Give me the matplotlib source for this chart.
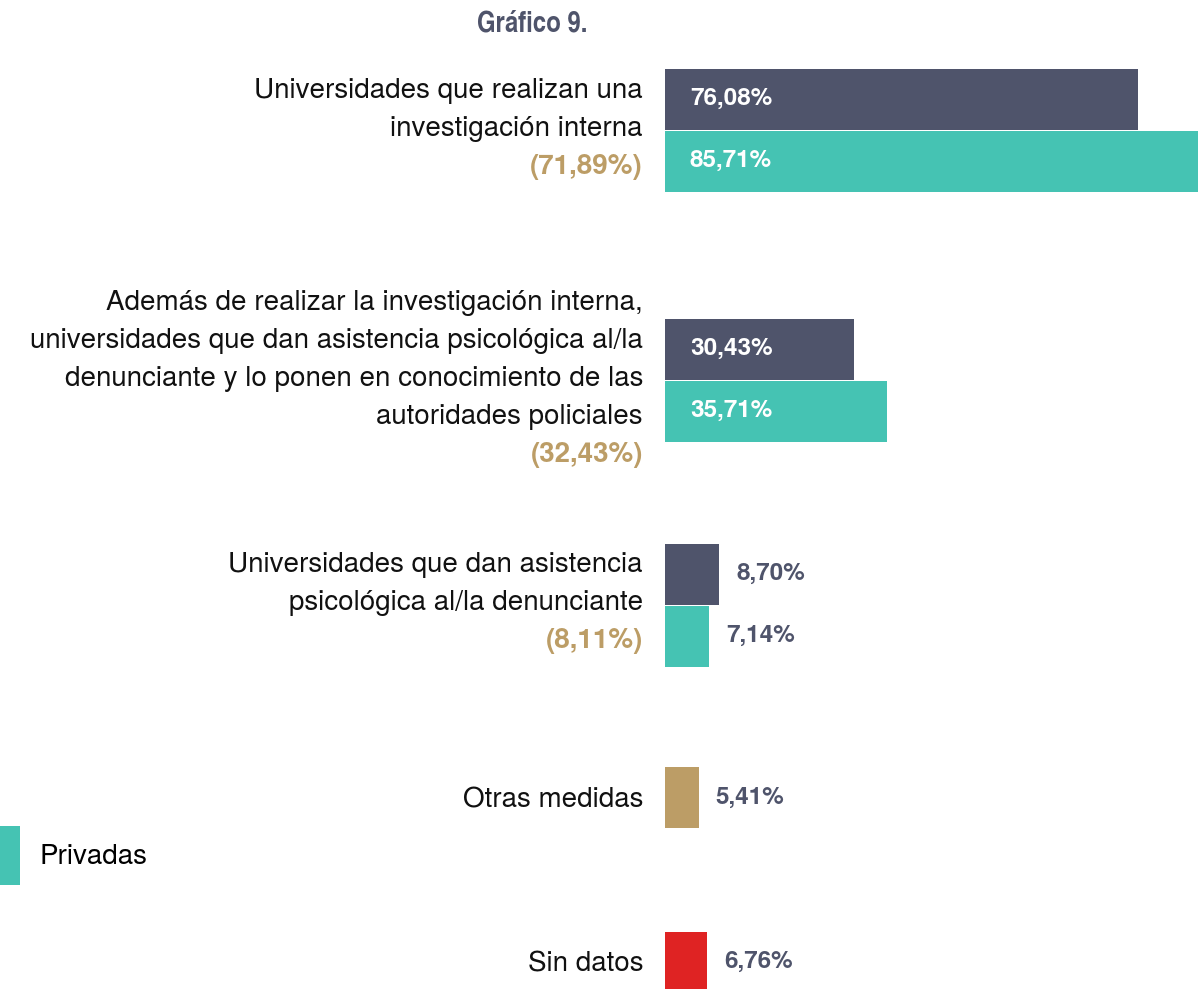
import matplotlib
matplotlib.use("Agg")
import matplotlib.pyplot as plt

# ---- data ----
categories = [
    ["Universidades que realizan una", "investigación interna"],
    ["Además de realizar la investigación interna,",
     "universidades que dan asistencia psicológica al/la",
     "denunciante y lo ponen en conocimiento de las",
     "autoridades policiales"],
    ["Universidades que dan asistencia", "psicológica al/la denunciante"],
]
publicas = [76.08, 30.43, 8.70]
privadas = [85.71, 35.71, 7.14]
totales = [71.89, 32.43, 8.11]
otras_labels = ["Otras medidas", "Sin datos"]
otras_values = [5.41, 6.76]

# ---- style ----
DARK = "#4f546b"
TEAL = "#45c3b3"
GOLD = "#bc9d66"
RED = "#df2323"
other_colors = [GOLD, RED]
FONT = ["TeX Gyre Heros", "Liberation Sans", "DejaVu Sans"]
TITLE_FONT = ["TeX Gyre Heros Cn", "Liberation Sans Narrow", "DejaVu Sans"]

W, H = 1202, 989
fig = plt.figure(figsize=(W / 100, H / 100), dpi=100)
x0 = 665
px_per_pct = 6.22
ax = fig.add_axes([x0 / W, 0, (W - x0) / W, 1])
ax.set_xlim(0, (W - x0) / px_per_pct)
ax.set_ylim(H, 0)
ax.axis("off")

bar_h = 61
group_centers = [130, 380, 605]
other_centers = [797.5, 962]
line_step = 38
label_fs = 20
value_fs = 17.5


def value_label(v, yc):
    txt = f"{v:.2f}".replace(".", ",") + "%"
    if v > 20:
        ax.annotate(txt, xy=(0, yc), xytext=(25, 0), textcoords="offset pixels",
                    ha="left", va="center", color="white", fontsize=value_fs,
                    fontweight="bold", family=FONT)
    else:
        ax.annotate(txt, xy=(v, yc), xytext=(17, 0), textcoords="offset pixels",
                    ha="left", va="center", color=DARK, fontsize=value_fs,
                    fontweight="bold", family=FONT)


def left_lines(lines, colors, weights, yc):
    n = len(lines)
    for k, (ln, c, w) in enumerate(zip(lines, colors, weights)):
        yb = yc + 9.5 + (k - (n - 1) / 2) * line_step
        ax.annotate(ln, xy=(0, yb), xytext=(-22, 0), textcoords="offset pixels",
                    ha="right", va="baseline", color=c, fontsize=label_fs,
                    fontweight=w, family=FONT, annotation_clip=False)


for i, gc in enumerate(group_centers):
    yp = gc - bar_h / 2 - 0.5
    yq = gc + bar_h / 2 + 0.5
    ax.barh(yp, publicas[i], height=bar_h, left=0, color=DARK, label="Públicas" if i == 0 else None)
    b = ax.barh(yq, privadas[i], height=bar_h, left=0, color=TEAL, label="Privadas" if i == 0 else None)
    if i == 0:
        priv_handle = b
    value_label(publicas[i], yp)
    value_label(privadas[i], yq)
    tot = "(" + f"{totales[i]:.2f}".replace(".", ",") + "%)"
    lines = categories[i] + [tot]
    colors = ["#111111"] * len(categories[i]) + [GOLD]
    weights = ["normal"] * len(categories[i]) + ["bold"]
    left_lines(lines, colors, weights, gc - 4)

for lab, v, c, yc in zip(otras_labels, otras_values, other_colors, other_centers):
    ax.barh(yc, v, height=bar_h, left=0, color=c)
    value_label(v, yc)
    left_lines([lab], ["#111111"], ["normal"], yc)

# title
fig.text(532 / W, 1 - 24 / H, "Gráfico 9.", ha="center", va="center",
         fontsize=21, fontweight="bold", color=DARK, family=TITLE_FONT)

# legend (only Privadas visible)
leg = fig.legend(handles=[priv_handle], labels=["Privadas"], loc="upper left",
                 bbox_to_anchor=(0, 1 - 826 / H), bbox_transform=fig.transFigure,
                 frameon=False, borderpad=0, borderaxespad=0,
                 handlelength=0.72, handleheight=2.9, handletextpad=0.72,
                 prop={"family": FONT, "size": label_fs})

fig.savefig("out.png", dpi=100)
